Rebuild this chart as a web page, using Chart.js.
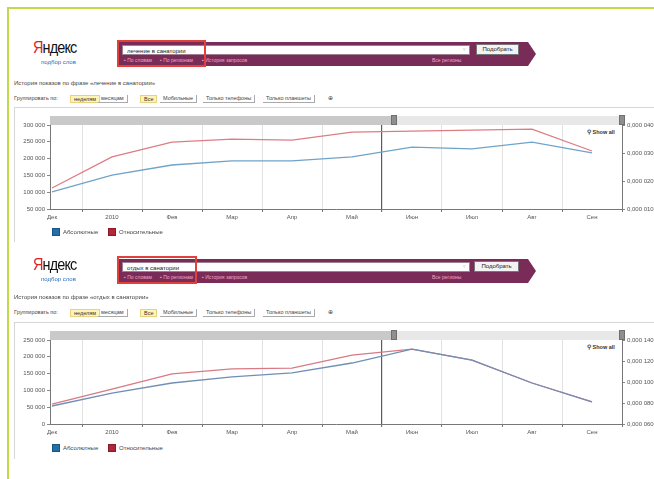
<!DOCTYPE html>
<html><head><meta charset="utf-8">
<script src="https://cdn.jsdelivr.net/npm/chart.js@4.4.0/dist/chart.umd.min.js"></script>
<style>
html,body{margin:0;padding:0;background:#fff;width:654px;height:479px;overflow:hidden;font-family:"Liberation Sans",Arial,sans-serif;}
.a{position:absolute;white-space:nowrap;}
.g1{background:#c3d94a;}
.logo{font-size:17px;letter-spacing:-1px;font-family:"Liberation Sans Narrow","Liberation Sans",sans-serif;transform:scaleX(0.85);transform-origin:left top;color:#111;}
.logo b{color:#e0201c;font-weight:normal;}
.sub{font-size:6px;color:#2a6cb5;}
.band{background:#7a2c58;height:24px;}
.arrow{width:0;height:0;border-top:12px solid transparent;border-bottom:12px solid transparent;border-left:8px solid #7a2c58;}
.inp{background:#fff;border:1px solid #a08090;height:10px;font-size:6px;line-height:10px;padding-left:4px;box-sizing:border-box;color:#222;}
.btn{background:#f3f3f3;border:1px solid #777;height:11px;font-size:6px;line-height:9px;text-align:center;box-sizing:border-box;color:#222;}
.lnk{font-size:5px;color:#f2a2c6;}
.redbox{border:2px solid #e2403a;box-sizing:border-box;}
.t6{font-size:6px;color:#444;}
.yb{background:#fff4b8;border:1px solid #e8d27a;font-size:5.5px;color:#333;height:8px;line-height:7px;padding:0 3px;box-sizing:border-box;}
.pb{font-size:5.5px;color:#444;border-right:1px solid #aaa;border-bottom:1px solid #aaa;height:8px;line-height:7px;padding:0 3px;box-sizing:border-box;}
.panel{border-top:1px solid #d6d6d6;border-left:1px solid #d6d6d6;box-sizing:border-box;}
.sd{background:#c9c9c9;height:9px;}
.sl{background:#e8e8e8;height:9px;}
.hd{background:#8f8f8f;width:6px;height:10px;border:1px solid #6f6f6f;box-sizing:border-box;}
.show{font-size:5.5px;color:#333;font-weight:bold;}
.lg{width:8px;height:8px;box-sizing:border-box;}
.lt{font-size:6px;color:#444;}
</style></head>
<body>
<!-- green frame -->
<div class="a g1" style="left:8px;top:7px;width:646px;height:2px;"></div>
<div class="a g1" style="left:7px;top:7px;width:2px;height:472px;"></div>

<!-- ===== TOP HEADER ===== -->
<div class="a logo" style="left:33px;top:38px;"><b>Я</b>ндекс</div>
<div class="a sub" style="left:41px;top:59px;">подбор слов</div>
<div class="a band" style="left:118px;top:42px;width:410px;"></div>
<div class="a arrow" style="left:528px;top:42px;"></div>
<div class="a inp" style="left:122px;top:45px;width:348px;">лечение в санатории</div>
<div class="a" style="left:463px;top:46px;font-size:5px;color:#aaa;">▿</div>
<div class="a btn" style="left:476px;top:44px;width:43px;">Подобрать</div>
<div class="a lnk" style="left:124px;top:57px;">▪ По словам</div>
<div class="a lnk" style="left:160px;top:57px;">▪ По регионам</div>
<div class="a lnk" style="left:202px;top:57px;">▪ История запросов</div>
<div class="a lnk" style="left:432px;top:57px;">Все регионы</div>
<div class="a redbox" style="left:117px;top:40px;width:89px;height:27px;"></div>
<div class="a t6" style="left:14px;top:80px;">История показов по фразе «лечение в санатории»</div>
<div class="a t6" style="left:14px;top:95px;font-size:5.5px;">Группировать по:</div>
<div class="a yb" style="left:70px;top:95px;">неделям</div>
<div class="a pb" style="left:98px;top:95px;">месяцам</div>
<div class="a yb" style="left:140px;top:95px;">Все</div>
<div class="a pb" style="left:160px;top:95px;">Мобильные</div>
<div class="a pb" style="left:203px;top:95px;">Только телефоны</div>
<div class="a pb" style="left:263px;top:95px;">Только планшеты</div>
<div class="a t6" style="left:328px;top:95px;font-size:5.5px;">⊕</div>

<div class="a panel" style="left:14px;top:107px;width:640px;height:135px;"></div>
<div class="a sd" style="left:50px;top:116px;width:344px;"></div>
<div class="a sl" style="left:394px;top:116px;width:228px;"></div>
<div class="a hd" style="left:391px;top:115px;"></div>
<div class="a hd" style="left:619px;top:115px;"></div>
<div class="a show" style="left:587px;top:129px;">⚲ Show all</div>
<canvas id="c1" class="a" style="left:14px;top:110px;" width="640" height="119"></canvas>
<div class="a lg" style="left:52px;top:228px;background:#2370a8;border:1px solid #1a5580;"></div>
<div class="a lt" style="left:63px;top:229px;">Абсолютные</div>
<div class="a lg" style="left:108px;top:228px;background:#b3263a;border:1px solid #861a2a;"></div>
<div class="a lt" style="left:119px;top:229px;">Относительные</div>

<!-- ===== BOTTOM HEADER ===== -->
<div class="a logo" style="left:33px;top:255px;"><b>Я</b>ндекс</div>
<div class="a sub" style="left:41px;top:276px;">подбор слов</div>
<div class="a band" style="left:118px;top:259px;width:410px;"></div>
<div class="a arrow" style="left:528px;top:259px;"></div>
<div class="a inp" style="left:122px;top:262px;width:348px;">отдых в санатории</div>
<div class="a" style="left:463px;top:263px;font-size:5px;color:#aaa;">▿</div>
<div class="a btn" style="left:474px;top:261px;width:45px;">Подобрать</div>
<div class="a lnk" style="left:124px;top:274px;">▪ По словам</div>
<div class="a lnk" style="left:160px;top:274px;">▪ По регионам</div>
<div class="a lnk" style="left:202px;top:274px;">▪ История запросов</div>
<div class="a lnk" style="left:432px;top:274px;">Все регионы</div>
<div class="a redbox" style="left:117px;top:256px;width:80px;height:28px;"></div>
<div class="a t6" style="left:14px;top:294px;">История показов по фразе «отдых в санатории»</div>
<div class="a t6" style="left:14px;top:309px;font-size:5.5px;">Группировать по:</div>
<div class="a yb" style="left:70px;top:309px;">неделям</div>
<div class="a pb" style="left:98px;top:309px;">месяцам</div>
<div class="a yb" style="left:140px;top:309px;">Все</div>
<div class="a pb" style="left:160px;top:309px;">Мобильные</div>
<div class="a pb" style="left:203px;top:309px;">Только телефоны</div>
<div class="a pb" style="left:263px;top:309px;">Только планшеты</div>
<div class="a t6" style="left:328px;top:309px;font-size:5.5px;">⊕</div>

<div class="a panel" style="left:14px;top:322px;width:640px;height:137px;"></div>
<div class="a sd" style="left:50px;top:331px;width:344px;"></div>
<div class="a sl" style="left:394px;top:331px;width:228px;"></div>
<div class="a hd" style="left:391px;top:330px;"></div>
<div class="a hd" style="left:619px;top:330px;"></div>
<div class="a show" style="left:587px;top:344px;">⚲ Show all</div>
<canvas id="c2" class="a" style="left:14px;top:325px;" width="640" height="119"></canvas>
<div class="a lg" style="left:52px;top:444px;background:#2370a8;border:1px solid #1a5580;"></div>
<div class="a lt" style="left:63px;top:445px;">Абсолютные</div>
<div class="a lg" style="left:108px;top:444px;background:#b3263a;border:1px solid #861a2a;"></div>
<div class="a lt" style="left:119px;top:445px;">Относительные</div>

<script>
// ---- data ----
const months = ['Дек','2010','Фев','Мар','Апр','Май','Июн','Июл','Авг','Сен'];
// "лечение в санатории"
const lechenieAbs = [100600,151000,181000,193000,193000,205000,234000,229000,249000,217000];
const lechenieRel = [112500,205000,249000,258000,255000,279000,282000,285000,288000,222600];
// "отдых в санатории"
const otdykhAbs = [53600,92000,122000,140000,152000,181500,223000,190000,122000,65500];
const otdykhRel = [59500,104000,149000,164000,166000,205000,223000,190000,122000,65500];
// axis tick labels
const rightTicksTop = ['0,000 040','0,000 030','0,000 020','0,000 010'];
const rightTicksBottom = ['0,000 140','0,000 120','0,000 100','0,000 080','0,000 060'];

Chart.defaults.font.family = '"Liberation Sans", Arial, sans-serif';
Chart.defaults.font.size = 6;
Chart.defaults.color = '#666';

function fmt(v){ return String(v).replace(/\B(?=(\d{3})+(?!\d))/g,' '); }
function pts(arr){ return arr.map((v,i)=>({x:i,y:v})); }

function makeChart(id, abs, rel, yMin, yMax, rightLabels, blueCol, redCol){
  const n = rightLabels.length;
  new Chart(document.getElementById(id), {
    type:'line',
    data:{ datasets:[
      {label:'Абсолютные', data:pts(abs), borderColor:blueCol, borderWidth:1.3, pointRadius:0, tension:0, yAxisID:'y'},
      {label:'Относительные', data:pts(rel), borderColor:redCol, borderWidth:1.3, pointRadius:0, tension:0, yAxisID:'y'}
    ]},
    options:{
      responsive:false, animation:false, devicePixelRatio:1,
      layout:{padding:{top:15,left:0,right:0,bottom:0}},
      plugins:{legend:{display:false}, tooltip:{enabled:false}},
      scales:{
        x:{ type:'linear', bounds:'data', min:-2/60, max:9.5,
            afterBuildTicks:s=>{ s.ticks = months.map((m,i)=>({value:i})); },
            ticks:{ autoSkip:false, maxRotation:0, padding:2, color:'#555',
                    callback:(v,i)=>months[i] },
            grid:{ offset:true, color:c=>c.index===6?'#5a5a6a':'#e2e2e2', lineWidth:c=>c.index===6?1.2:1,
                   tickColor:'#777', tickLength:3 },
            border:{color:'#777'},
            afterFit:s=>{ s.height = 20; } },
        y:{ position:'left', min:yMin, max:yMax,
            ticks:{ stepSize:50000, padding:2, color:'#555', callback:v=>fmt(v) },
            grid:{ drawOnChartArea:false, tickLength:3, tickColor:'#888' },
            border:{color:'#777'},
            afterFit:s=>{ s.width = 36; } },
        y2:{ position:'right', min:0, max:n-1, display:true,
             ticks:{ stepSize:1, padding:2, color:'#555', callback:v=>rightLabels[n-1-v] },
             grid:{ drawOnChartArea:false, tickLength:3, tickColor:'#888' },
             border:{color:'#777'},
             afterFit:s=>{ s.width = 32; } }
      }
    }
  });
}

makeChart('c1', lechenieAbs, lechenieRel, 50000, 300000, rightTicksTop, '#6fa3c9', '#de7c84');
makeChart('c2', otdykhAbs, otdykhRel, 0, 250000, rightTicksBottom, '#6f8fb6', '#d77a86');
</script>
</body></html>
